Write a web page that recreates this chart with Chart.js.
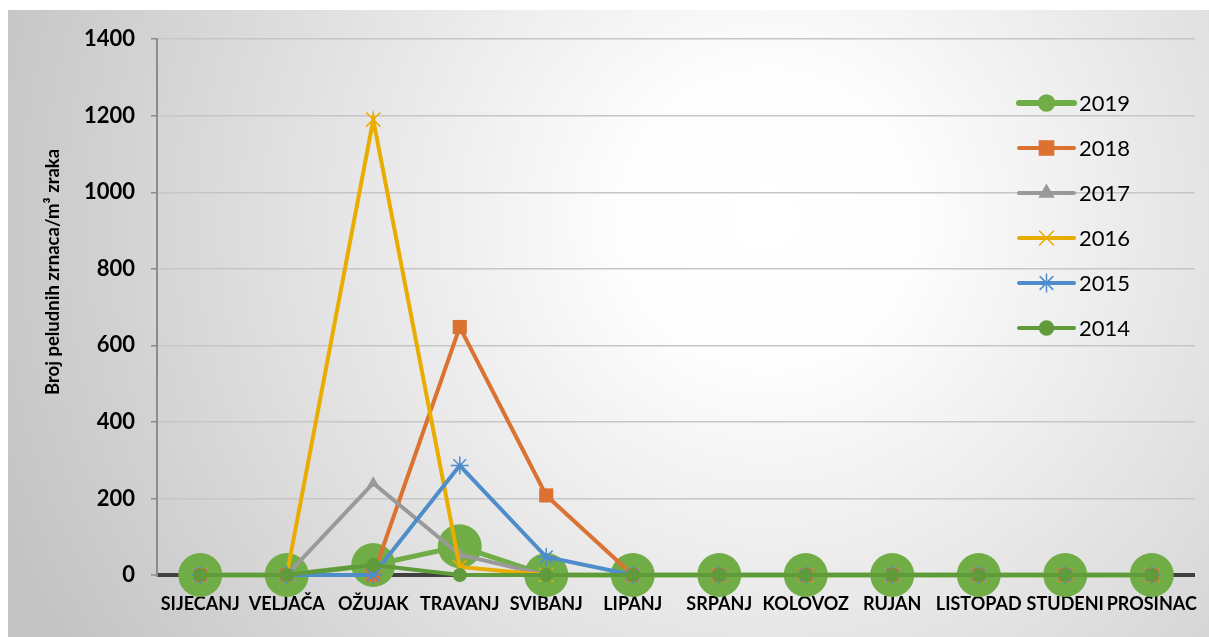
<!DOCTYPE html>
<html>
<head>
<meta charset="utf-8">
<script src="https://cdn.jsdelivr.net/npm/chart.js@4.4.0/dist/chart.umd.min.js"></script>
<style>
  html, body { margin: 0; padding: 0; background: #ffffff; }
  #wrap { position: absolute; left: 8px; top: 10px; width: 1201px; height: 627px; }
</style>
</head>
<body>
<div id="wrap"><canvas id="c" width="1201" height="627"></canvas></div>
<script>
// Monthly pollen counts (grains per m³ of air)
const months = ['SIJEČANJ', 'VELJAČA', 'OŽUJAK', 'TRAVANJ', 'SVIBANJ', 'LIPANJ',
                'SRPANJ', 'KOLOVOZ', 'RUJAN', 'LISTOPAD', 'STUDENI', 'PROSINAC'];
const y2019 = [0, 0, 26, 75, 0, 0, 0, 0, 0, 0, 0, 0];
const y2018 = [0, 0, 0, 648, 208, 0, 0, 0, 0, 0, 0, 0];
const y2017 = [0, 0, 240, 53, 0, 0, 0, 0, 0, 0, 0, 0];
const y2016 = [0, 0, 1190, 21, 0, 0, 0, 0, 0, 0, 0, 0];
const y2015 = [0, 0, 0, 286, 47, 0, 0, 0, 0, 0, 0, 0];
const y2014 = [0, 0, 26, 0, 0, 0, 0, 0, 0, 0, 0, 0];
const yTicks = [0, 200, 400, 600, 800, 1000, 1200, 1400];
const yTitle = 'Broj peludnih zrnaca/m³ zraka';
const legendOrder = ['2019', '2018', '2017', '2016', '2015', '2014'];

// Soft radial backdrop behind the whole chart
const backdrop = {
  id: 'backdrop',
  beforeDraw(chart) {
    const { ctx, width, height } = chart;
    const g = ctx.createRadialGradient(760, 210, 0, 760, 210, 830);
    g.addColorStop(0, '#ffffff');
    g.addColorStop(0.18, '#fdfdfd');
    g.addColorStop(1, '#c3c3c3');
    ctx.save();
    ctx.fillStyle = g;
    ctx.fillRect(0, 0, width, height);
    ctx.restore();
  }
};

// Rotated value-axis caption, sitting a little above the axis middle
const axisCaption = {
  id: 'axisCaption',
  afterDraw(chart) {
    const ctx = chart.ctx;
    ctx.save();
    ctx.translate(45, 262);
    ctx.rotate(-Math.PI / 2);
    ctx.fillStyle = '#000000';
    ctx.font = 'bold 18.5px Lato';
    ctx.textAlign = 'center';
    ctx.textBaseline = 'middle';
    ctx.fillText(yTitle, 0, 0);
    ctx.restore();
  }
};

// Vertical legend drawn inside the plot on the right
const legendBox = {
  id: 'legendBox',
  afterDraw(chart) {
    const ctx = chart.ctx;
    legendOrder.forEach((name, i) => {
      const ds = chart.data.datasets.find(d => d.label === name);
      const y = 93 + i * 45;
      ctx.save();
      ctx.strokeStyle = ds.borderColor;
      ctx.lineWidth = ds.legendLine;
      ctx.lineCap = 'round';
      ctx.beginPath();
      ctx.moveTo(1011, y);
      ctx.lineTo(1066, y);
      ctx.stroke();
      ctx.fillStyle = ds.backgroundColor;
      ctx.strokeStyle = ds.borderColor;
      ctx.lineWidth = 1.5;
      Chart.helpers.drawPoint(ctx, {
        pointStyle: ds.pointStyle, radius: ds.legendRadius, rotation: 0, borderWidth: 1.5
      }, 1038.5, y);
      ctx.fillStyle = '#000000';
      ctx.font = '22px Lato';
      ctx.textBaseline = 'middle';
      ctx.textAlign = 'left';
      ctx.fillText(name, 1071, y + 1);
      ctx.restore();
    });
  }
};

function series(label, data, color, width, style, radius, legendRadius, legendLine) {
  return {
    label, data,
    clip: false,
    borderColor: color, backgroundColor: color,
    borderWidth: width, tension: 0,
    pointStyle: style, pointRadius: radius, pointHoverRadius: radius,
    pointBorderWidth: (style === 'crossRot' || style === 'star') ? 1.5 : 0,
    pointBackgroundColor: color, pointBorderColor: color,
    legendRadius, legendLine
  };
}

function build() {
  new Chart(document.getElementById('c'), {
    type: 'line',
    data: {
      labels: months,
      // first dataset is painted last, so 2014 sits on top and 2019 underneath
      datasets: [
        series('2014', y2014, '#5f9a3b', 4, 'circle', 7, 7, 4),
        series('2015', y2015, '#4e8cca', 4, 'star', 9, 9, 4),
        series('2016', y2016, '#e8ad00', 4, 'crossRot', 10, 10, 4),
        series('2017', y2017, '#999999', 4, 'triangle', 7, 8, 4),
        series('2018', y2018, '#dc7231', 4, 'rect', 10, 10, 4),
        series('2019', y2019, '#70ad47', 5, 'circle', 22, 8, 6)
      ]
    },
    options: {
      responsive: false,
      animation: false,
      events: [],
      layout: { autoPadding: false, padding: { top: 27, right: 14, left: 0, bottom: 0 } },
      plugins: { legend: { display: false }, tooltip: { enabled: false } },
      scales: {
        x: {
          type: 'category',
          offset: true,
          grid: { display: false, drawTicks: false },
          border: { display: false },
          ticks: {
            autoSkip: false, maxRotation: 0, minRotation: 0, padding: 18,
            color: '#000000', font: { family: 'Lato', size: 18, weight: 'bold' }
          },
          afterFit(s) { s.height = 62; s.paddingLeft = 0; s.paddingRight = 0; }
        },
        y: {
          min: yTicks[0],
          max: yTicks[yTicks.length - 1],
          afterBuildTicks(s) { s.ticks = yTicks.map(v => ({ value: v })); },
          ticks: {
            padding: 16, color: '#000000',
            font: { family: 'Lato', size: 22, weight: 'bold' },
            callback: v => String(v)
          },
          grid: {
            color: c => (c.tick && c.tick.value === 0) ? '#404040' : '#c6c6c6',
            lineWidth: c => (c.tick && c.tick.value === 0) ? 4 : 1.5,
            tickColor: '#8c8c8c', tickLength: 6, tickWidth: 1.5
          },
          border: { display: true, color: '#8c8c8c', width: 2 },
          afterFit(s) { s.width = 149; }
        }
      }
    },
    plugins: [backdrop, axisCaption, legendBox]
  });
}

Promise.all([
  document.fonts.load('bold 18px Lato'),
  document.fonts.load('22px Lato')
]).then(build, build);
</script>
</body>
</html>
